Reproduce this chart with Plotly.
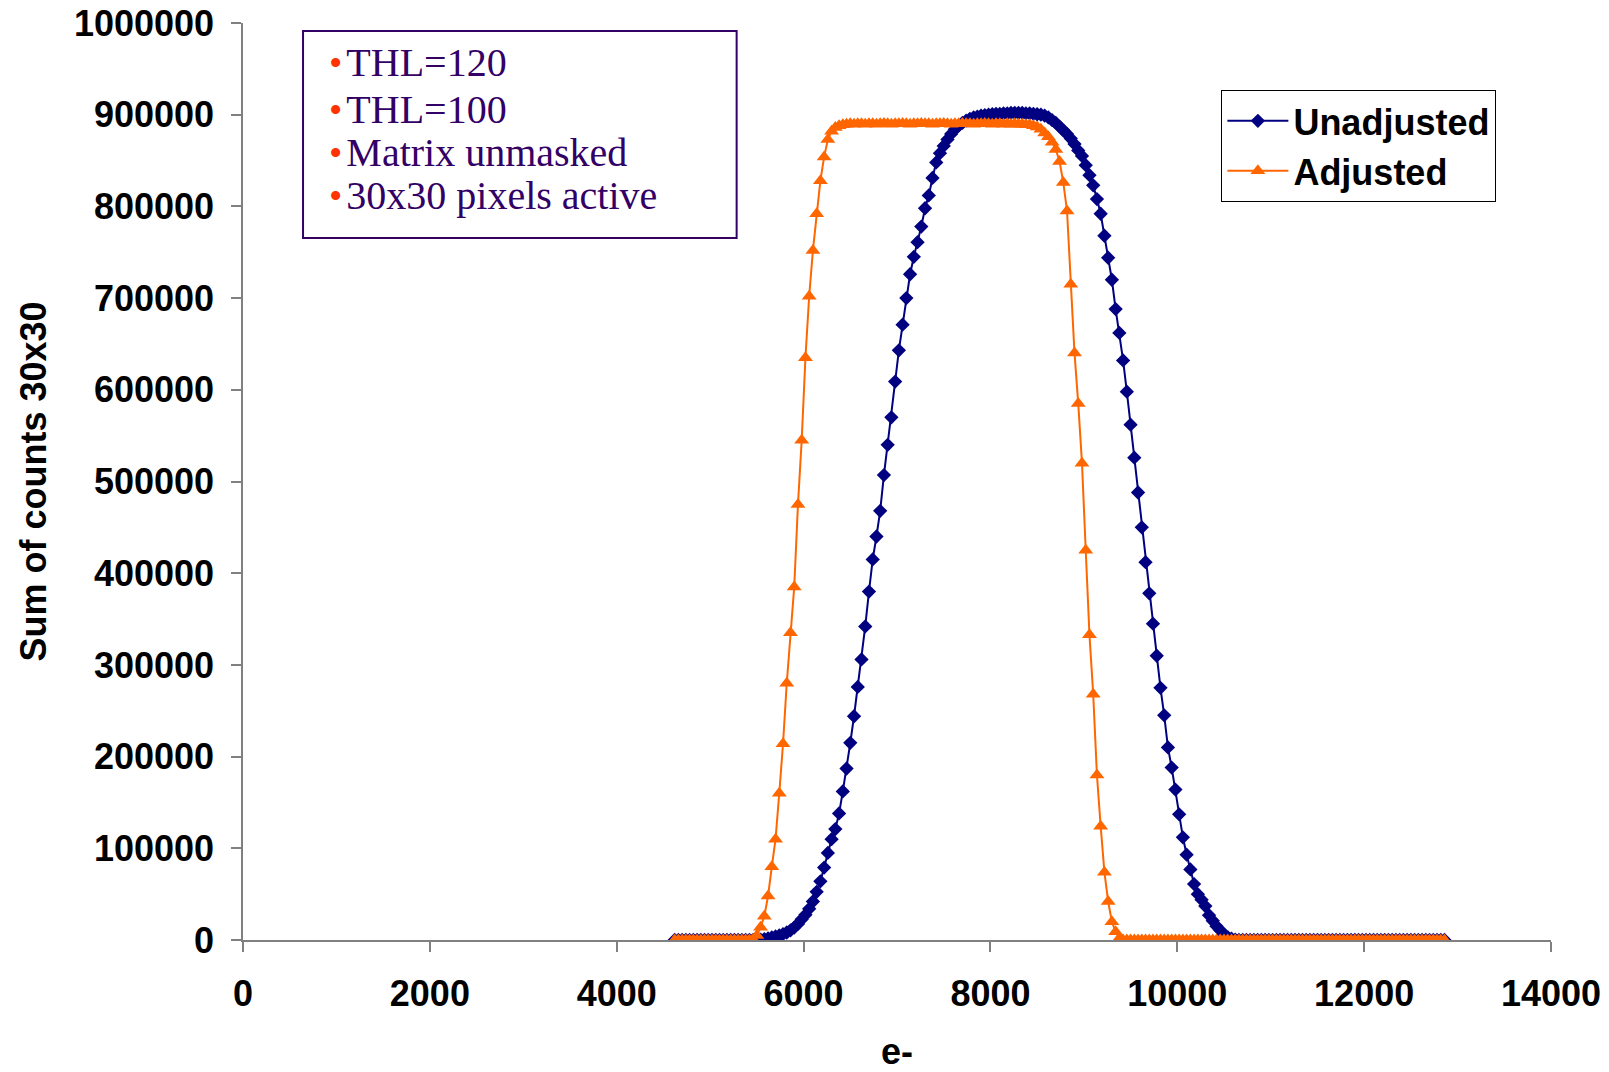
import plotly.graph_objects as go

# Threshold (e-) grid, rows of 10 values
x_e = [
    4620, 4660, 4700, 4740, 4780, 4820, 4860, 4900, 4940, 4980,
    5020, 5060, 5100, 5140, 5180, 5220, 5260, 5300, 5340, 5380,
    5420, 5460, 5500, 5540, 5580, 5620, 5660, 5700, 5740, 5780,
    5820, 5860, 5900, 5940, 5980, 6020, 6060, 6100, 6140, 6180,
    6220, 6260, 6300, 6340, 6380, 6420, 6460, 6500, 6540, 6580,
    6620, 6660, 6700, 6740, 6780, 6820, 6860, 6900, 6940, 6980,
    7020, 7060, 7100, 7140, 7180, 7220, 7260, 7300, 7340, 7380,
    7420, 7460, 7500, 7540, 7580, 7620, 7660, 7700, 7740, 7780,
    7820, 7860, 7900, 7940, 7980, 8020, 8060, 8100, 8140, 8180,
    8220, 8260, 8300, 8340, 8380, 8420, 8460, 8500, 8540, 8580,
    8620, 8660, 8700, 8740, 8780, 8820, 8860, 8900, 8940, 8980,
    9020, 9060, 9100, 9140, 9180, 9220, 9260, 9300, 9340, 9380,
    9420, 9460, 9500, 9540, 9580, 9620, 9660, 9700, 9740, 9780,
    9820, 9860, 9900, 9940, 9980, 10020, 10060, 10100, 10140, 10180,
    10220, 10260, 10300, 10340, 10380, 10420, 10460, 10500, 10540, 10580,
    10620, 10660, 10700, 10740, 10780, 10820, 10860, 10900, 10940, 10980,
    11020, 11060, 11100, 11140, 11180, 11220, 11260, 11300, 11340, 11380,
    11420, 11460, 11500, 11540, 11580, 11620, 11660, 11700, 11740, 11780,
    11820, 11860, 11900, 11940, 11980, 12020, 12060, 12100, 12140, 12180,
    12220, 12260, 12300, 12340, 12380, 12420, 12460, 12500, 12540, 12580,
    12620, 12660, 12700, 12740, 12780, 12820, 12860,
]

unadjusted = [
    0, 0, 0, 0, 0, 0, 0, 0, 0, 0,
    0, 0, 0, 0, 0, 0, 0, 0, 0, 0,
    0, 0, 0, 500, 1000, 1800, 2700, 3800, 5000, 6500,
    8200, 10500, 13500, 17500, 22500, 27500, 34000, 42000, 52500, 64000,
    79000, 95000, 110000, 121000, 138000, 162000, 187000, 215000, 244000, 276000,
    306000, 342000, 380000, 415000, 440000, 468000, 507000, 540000, 570000, 609000,
    643000, 671000, 700000, 726000, 745000, 761000, 778000, 798000, 812000, 831000,
    848000, 858000, 866000, 873000, 879000, 884000, 888000, 891000, 893500, 895500,
    897000, 898000, 899000, 899500, 900000, 900500, 901000, 901000, 901500, 901500,
    902000, 902000, 902000, 902000, 901500, 901500, 901000, 900500, 900000, 899000,
    897000, 894000, 891000, 887000, 883000, 879000, 874000, 868000, 861000, 855000,
    845000, 834000, 823000, 808000, 792000, 768000, 744000, 720000, 688000, 662000,
    632000, 598000, 562000, 526000, 488000, 450000, 412000, 378000, 345000, 310000,
    275000, 245000, 210000, 188000, 164000, 137000, 112000, 93000, 77000, 61000,
    50000, 44000, 37000, 27000, 21000, 15000, 10500, 6000, 3000, 1500,
    500, 0, 0, 0, 0, 0, 0, 0, 0, 0,
    0, 0, 0, 0, 0, 0, 0, 0, 0, 0,
    0, 0, 0, 0, 0, 0, 0, 0, 0, 0,
    0, 0, 0, 0, 0, 0, 0, 0, 0, 0,
    0, 0, 0, 0, 0, 0, 0, 0, 0, 0,
    0, 0, 0, 0, 0, 0, 0,
]

adjusted = [
    0, 0, 0, 0, 0, 0, 0, 0, 0, 0,
    0, 0, 0, 0, 0, 0, 0, 0, 0, 0,
    0, 500, 5000, 14000, 26000, 48000, 80000, 110000, 160000, 214000,
    280000, 335000, 385000, 475000, 545000, 635000, 702000, 752000, 792000, 828000,
    854000, 873000, 882000, 886000, 888000, 889000, 889500, 890000, 889500, 890000,
    890000, 889500, 890000, 890000, 889500, 890000, 890500, 890000, 889500, 890000,
    890000, 890500, 890000, 889500, 890000, 890000, 890500, 890000, 890000, 889500,
    890000, 890000, 890500, 890000, 889500, 890000, 890000, 890500, 890000, 890000,
    889500, 890000, 890000, 890500, 890000, 889500, 890000, 890000, 889500, 890000,
    889500, 890000, 889500, 889500, 889000, 889000, 888000, 886500, 884000, 880000,
    876000, 870000, 862000, 849000, 826000, 795000, 715000, 640000, 585000, 520000,
    425000, 333000, 268000, 180000, 124000, 74000, 42000, 20000, 9000, 2000,
    0, 0, 0, 0, 0, 0, 0, 0, 0, 0,
    0, 0, 0, 0, 0, 0, 0, 0, 0, 0,
    0, 0, 0, 0, 0, 0, 0, 0, 0, 0,
    0, 0, 0, 0, 0, 0, 0, 0, 0, 0,
    0, 0, 0, 0, 0, 0, 0, 0, 0, 0,
    0, 0, 0, 0, 0, 0, 0, 0, 0, 0,
    0, 0, 0, 0, 0, 0, 0, 0, 0, 0,
    0, 0, 0, 0, 0, 0, 0, 0, 0, 0,
    0, 0, 0, 0, 0, 0, 0,
]

assert len(x_e) == len(unadjusted) == len(adjusted)

notes = ["THL=120", "THL=100", "Matrix unmasked", "30x30 pixels active"]

SANS = "Liberation Sans, Arial, sans-serif"
SERIF = "Liberation Serif, Times New Roman, serif"
AXIS_GRAY = "#808080"

fig = go.Figure()
fig.add_trace(go.Scatter(
    x=x_e, y=unadjusted, name="Unadjusted", mode="lines+markers",
    line=dict(color="#000080", width=2),
    marker=dict(symbol="diamond", size=11, color="#000080"),
))
fig.add_trace(go.Scatter(
    x=x_e, y=adjusted, name="Adjusted", mode="lines+markers",
    line=dict(color="#FF6600", width=2),
    marker=dict(symbol="triangle-up", size=13, color="#FF6600"),
))

tickfont = dict(family=SANS, size=36, color="black", weight="bold")

fig.update_layout(
    width=1609, height=1072,
    margin=dict(l=243, r=58, t=23, b=132, autoexpand=False),
    paper_bgcolor="white", plot_bgcolor="white",
    showlegend=True,
    legend=dict(
        x=0.748, y=0.927, xanchor="left", yanchor="top",
        bgcolor="white", bordercolor="black", borderwidth=1,
        font=dict(family=SANS, size=36, color="black", weight="bold"),
        itemwidth=61, tracegroupgap=0,
    ),
    xaxis=dict(
        range=[0, 14000], dtick=2000, tick0=0, tickformat="d",
        showgrid=False, zeroline=False, automargin=False,
        showline=True, linecolor=AXIS_GRAY, linewidth=1.5,
        ticks="outside", ticklen=10, tickcolor=AXIS_GRAY, tickwidth=1.5,
        tickfont=tickfont, ticklabelstandoff=11, ticklabeloverflow="allow",
        title=dict(text="e-", font=tickfont, standoff=44),
    ),
    yaxis=dict(
        range=[0, 1000000], dtick=100000, tick0=0, tickformat="d",
        showgrid=False, zeroline=False, automargin=False,
        showline=True, linecolor=AXIS_GRAY, linewidth=1.5,
        ticks="outside", ticklen=10, tickcolor=AXIS_GRAY, tickwidth=1.5,
        tickfont=tickfont, ticklabelstandoff=10, ticklabeloverflow="allow",
        title=dict(text="Sum of counts 30x30", font=tickfont, standoff=16),
    ),
)

# annotation box
fig.add_shape(type="rect", xref="paper", yref="paper",
              x0=0.0459, x1=0.3774, y0=0.7655, y1=0.9913,
              line=dict(color="#330066", width=2), fillcolor="white", layer="above")

note_y = [0.9564, 0.9062, 0.8593, 0.8124]
for txt, yy in zip(notes, note_y):
    fig.add_annotation(
        xref="paper", yref="paper", x=0.064, y=yy,
        xanchor="left", yanchor="middle", showarrow=False,
        text=('<span style="color:#FF3300;font-size:38px">\u2022</span>'
              '<span style="font-size:16px"> </span>' + txt),
        font=dict(family=SERIF, size=40, color="#330066"),
    )

# remove the default 8px page margin so the figure fills the window exactly
fig.write_html("out.html", config={"displayModeBar": False},
               post_script="document.body.style.margin='0';")
